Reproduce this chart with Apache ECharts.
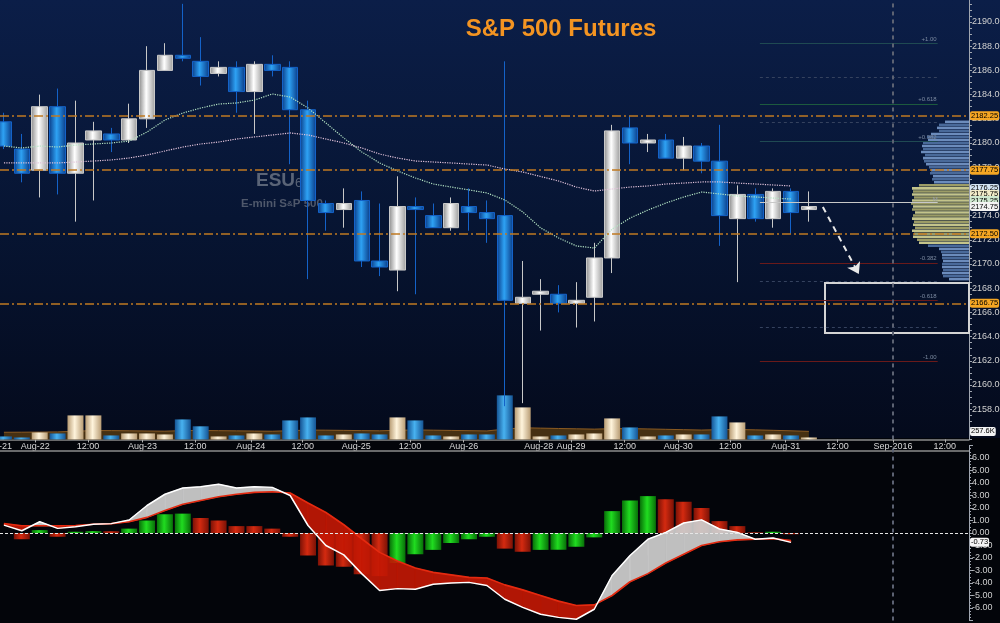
<!DOCTYPE html>
<html><head><meta charset="utf-8">
<script src="https://cdn.jsdelivr.net/npm/echarts@6/dist/echarts.min.js"></script>
<style>html,body{margin:0;padding:0;background:#03050a}#c{width:1000px;height:623px}</style>
</head><body><div id="c"></div>
<script>
// ---------- DATA ----------
const opens  = [2181.75,2179.5,2177.75,2183.0,2177.5,2180.25,2180.75,2180.25,2182.0,2186.0,2187.25,2186.75,2185.75,2186.25,2184.25,2186.5,2186.25,2182.75,2175.0,2174.5,2175.25,2170.25,2169.5,2174.75,2174.0,2173.0,2174.75,2174.25,2174.0,2166.75,2167.5,2167.5,2166.75,2167.25,2170.5,2181.25,2180.0,2180.25,2178.75,2179.75,2178.5,2173.75,2175.75,2173.75,2176.0,2174.5];
const closes = [2179.75,2177.5,2183.0,2177.5,2180.0,2181.0,2180.25,2182.0,2186.0,2187.25,2187.0,2185.5,2186.25,2184.25,2186.5,2186.0,2182.75,2175.25,2174.25,2175.0,2170.25,2169.75,2174.75,2174.5,2173.0,2175.0,2174.25,2173.75,2167.0,2167.25,2167.75,2166.75,2167.0,2170.5,2181.0,2180.0,2180.25,2178.75,2179.75,2178.5,2174.0,2175.75,2173.75,2176.0,2174.25,2174.75];
const lows   = [2179.5,2176.75,2175.5,2175.75,2173.5,2175.25,2179.25,2180.0,2181.25,2186.0,2186.75,2184.75,2185.5,2182.5,2180.75,2185.5,2178.25,2168.75,2172.75,2173.0,2169.75,2169.0,2167.75,2167.5,2173.0,2172.75,2172.75,2171.75,2158.25,2158.5,2164.5,2166.0,2164.75,2165.25,2169.25,2178.25,2179.25,2178.75,2177.75,2177.5,2171.5,2168.5,2173.5,2173.0,2172.5,2173.5];
const highs  = [2182.5,2180.75,2184.0,2184.5,2183.5,2181.75,2181.25,2183.25,2188.0,2188.25,2191.5,2188.75,2186.75,2186.75,2186.75,2187.25,2186.75,2183.5,2175.25,2176.25,2176.0,2175.0,2177.25,2175.5,2175.0,2175.5,2176.25,2175.25,2186.75,2170.25,2168.75,2168.25,2168.5,2171.75,2181.5,2182.25,2180.75,2180.75,2180.5,2180.0,2181.5,2176.5,2176.25,2176.25,2176.25,2176.0];
const volumesK = [96,64,224,192,768,768,128,192,192,160,640,420,96,128,192,160,608,704,128,160,192,160,704,608,128,96,160,160,1408,1024,96,128,160,192,672,384,96,128,160,160,736,544,128,160,128,64];
const volumeAvgK = [230,232,236,240,262,284,282,276,270,264,282,286,280,274,268,262,280,300,296,290,282,276,292,304,296,288,280,272,330,372,362,350,340,330,344,346,336,324,312,300,312,318,306,292,276,257.6];
const maFast = [2179.75,2179.59,2179.75,2179.67,2179.83,2179.92,2180.0,2180.16,2180.91,2181.9,2182.48,2182.89,2183.22,2183.31,2183.55,2184.05,2183.8,2182.89,2181.65,2180.41,2179.26,2178.35,2177.69,2177.11,2176.61,2176.36,2176.12,2175.87,2175.29,2174.3,2172.98,2172.15,2171.49,2171.32,2172.89,2173.8,2174.46,2175.04,2175.54,2175.95,2175.79,2175.62,2175.54,2175.45,2175.37];
const maSlow = [2178.35,2178.35,2178.35,2178.35,2178.43,2178.51,2178.6,2178.76,2179.01,2179.34,2179.67,2179.92,2180.08,2180.33,2180.5,2180.66,2180.83,2180.66,2180.33,2180.0,2179.59,2179.09,2178.76,2178.51,2178.43,2178.35,2178.26,2178.18,2177.85,2177.6,2177.23,2176.86,2176.36,2176.03,2176.2,2176.36,2176.45,2176.61,2176.69,2176.78,2176.78,2176.69,2176.61,2176.53,2176.45];
const macdLine   = [0.63,0.18,0.9,0.37,0.5,0.7,0.75,1.04,2.2,3.1,3.6,3.7,3.9,3.6,3.7,3.65,3.0,0.6,-1.0,-1.75,-3.25,-4.6,-4.45,-4.5,-4.1,-4.0,-3.95,-4.2,-5.3,-5.95,-6.5,-6.75,-6.9,-6.1,-3.4,-1.8,-0.5,0.05,0.8,1.05,0.32,0.05,-0.5,-0.4,-0.75];
const signalLine = [0.75,0.58,0.58,0.58,0.6,0.7,0.75,0.9,1.25,1.8,2.3,2.6,2.9,3.1,3.25,3.3,3.2,2.4,1.64,0.66,-0.46,-1.55,-2.24,-2.8,-3.15,-3.35,-3.55,-3.6,-4.15,-4.55,-5.0,-5.45,-5.8,-5.75,-5.0,-3.9,-3.25,-2.4,-1.7,-1.0,-0.7,-0.55,-0.5,-0.45,-0.6];
const macdHist   = [0,-0.5,0.23,-0.3,0.1,0.15,0.14,0.35,1.0,1.5,1.55,1.2,1.0,0.55,0.55,0.35,-0.3,-1.8,-2.6,-2.7,-3.3,-3.45,-2.4,-1.7,-1.35,-0.8,-0.5,-0.3,-1.25,-1.5,-1.35,-1.34,-1.1,-0.35,1.75,2.6,2.95,2.7,2.5,2.0,0.95,0.55,0.05,0.1,-0.1];
const macdLast = -0.73;
const volumeLastTag = 257.6;
const keyLevels = [2182.25, 2177.75, 2172.50, 2166.75];
const lastTags = [2176.25, 2175.75, 2175.25, 2174.75];
const lastTagColors = ['#d4e4f4', '#f2ecc8', '#cfe9cf', '#f2f2f2'];
const fibMid = 2175.12, fibRange = 13.14;
const fibRatios = [1, 0.786, 0.618, 0.5, 0.382, -0.382, -0.5, -0.618, -0.786, -1];
const fibStart = 42.26, fibEnd = 52.2;
const profileTop = 2181.75, profileStep = 0.25;
const profileVol = [24,30,32,30,38,42,41,46,47,46,48,44,46,45,43,40,38,39,36,37,35,50,57,56,57,55,57,58,56,57,54,56,57,55,56,54,57,55,56,52,50,41,30,28,27,27,26,27,27,26,27,26,20];
const valueAreaLow = 2171.75, valueAreaHigh = 2176.5;
const xTickPos  = [1.75,4.7,7.75,10.7,13.8,16.7,19.7,22.7,25.7,29.9,31.7,34.7,37.7,40.6,43.7,46.6,49.7,52.6];
const xTickText = ['Aug-22','12:00','Aug-23','12:00','Aug-24','12:00','Aug-25','12:00','Aug-26','Aug-28','Aug-29','12:00','Aug-30','12:00','Aug-31','12:00','Sep-2016','12:00'];
const sepLinePos = 49.7;
const targetBox = [[45.9, 2168.43], [54, 2164.3]];
const arrowFrom = [45.78, 2174.71], arrowTo = [47.79, 2169.17];
const NBARS = 54;
const categories = Array.from({length: NBARS}, (_, i) => 'B' + i);

// ---------- STYLE ----------
const FONT = '"Liberation Sans Narrow", "Liberation Sans", Arial, sans-serif';
const hGrad = (a, b, c) => ({type:'linear', x:0, y:0, x2:1, y2:0, colorStops:[{offset:0,color:a},{offset:0.45,color:b},{offset:1,color:c}]});
const upGrad = hGrad('#8a8a8a', '#ffffff', '#9c9c9c');
const dnGrad = hGrad('#0a3c88', '#2ea2f4', '#0a3c88');
const volUp = hGrad('#b89c74', '#fff4dc', '#b89c74');
const volDn = hGrad('#155494', '#48b2f0', '#155494');
const hGreen = hGrad('#087008', '#20dc20', '#087008');
const hRed = hGrad('#7c1206', '#d42a10', '#7c1206');

const chart = echarts.init(document.getElementById('c'));

const tagLabel = (bg, fmt) => ({show:true, position:'end', distance:1, backgroundColor:bg, color:'#000', fontFamily:FONT, fontSize:7.5, fontWeight:'normal', padding:[1,1,0,1], borderRadius:2, formatter: fmt || (p => Number(p.value).toFixed(2))});
const hidden = {width:0, color:'rgba(0,0,0,0)'};

const markLines = [];
keyLevels.forEach(v => markLines.push({yAxis:v, lineStyle:{color:'#c07a22', width:1.5, type:[9,3,2,3]}, label:tagLabel('#f5a623')}));
fibRatios.forEach(r => {
  const lvl = fibMid + r * fibRange;
  const major = [1, 0.618, 0.382, -0.382, -0.618, -1].includes(r);
  const col = !major ? '#35425e' : (r > 0 ? (r === 0.618 ? '#1d5a3e' : '#1f4a52') : '#6a1a1a');
  markLines.push([
    {coord:[fibStart, lvl], lineStyle:{color:col, width:1, type: major ? 'solid' : [3,3]},
     label:{show: major, position:'insideEndTop', distance:1, color:'#7c8aa0', fontSize:6, fontFamily:FONT, formatter:(r>0?'+':'') + r.toFixed(Math.abs(r)===1?2:3)}},
    {coord:[fibEnd, lvl]}
  ]);
});
markLines.push([{coord:[fibStart, fibMid], lineStyle:{color:'#c8c8c8', width:1, type:'solid'}, label:{show:true, position:'insideEndTop', distance:0, color:'#9aa0aa', fontSize:6, formatter:'M'}}, {coord:[fibEnd, fibMid]}]);
markLines.push({xAxis:sepLinePos, lineStyle:{color:'#5c6272', width:2, type:[4,4]}, label:{show:false}});
markLines.push([{coord:arrowFrom, symbol:'none', lineStyle:{color:'#e8e8e8', width:2, type:[6,5]}, label:{show:false}}, {coord:arrowTo, symbol:'arrow', symbolSize:11}]);
lastTags.forEach((v, i) => markLines.push({yAxis:v, lineStyle:hidden, label:tagLabel(lastTagColors[i])}));

const axisCol = '#a0a6b0';
const G = o => Object.assign({outerBoundsMode:'none', containLabel:false}, o);
const option = {
  backgroundColor:'#03050a',
  animation:false,
  grid:[
    G({left:-5, right:38.9, top:-2.2, height:441.65}),
    G({left:0, right:31, top:-2.2, height:441.65}),
    G({left:0, right:31, top:395, height:44.45}),
    G({left:0, right:31, top:445.5, height:175}),
    G({left:910, right:31, top:-2.2, height:441.65})
  ],
  xAxis:[
    {gridIndex:0, type:'category', data:categories, show:false},
    {gridIndex:1, type:'value', min:-0.22, max:53.95, show:false},
    {gridIndex:2, type:'value', min:-0.22, max:53.95,
      axisLine:{show:true, onZero:false, lineStyle:{color:'#8c8c8c', width:1.5}}, splitLine:{show:false},
      axisTick:{show:true, customValues:xTickPos, length:3, lineStyle:{color:'#b0b0b0'}},
      axisLabel:{customValues:xTickPos, color:'#d8d8d8', fontSize:9, fontFamily:FONT, margin:3,
        formatter: v => { const i = xTickPos.findIndex(p => Math.abs(p - v) < 1e-6); return i >= 0 ? xTickText[i] : ''; }}},
    {gridIndex:3, type:'value', min:-0.22, max:53.95, show:false},
    {gridIndex:4, type:'value', min:0, max:59, inverse:true, show:false}
  ],
  yAxis:[
    {gridIndex:0, type:'value', min:2155.5, max:2192, show:false},
    {gridIndex:1, type:'value', position:'right', min:2155.5, max:2192, interval:0.5,
      axisLine:{show:true, onZero:false, lineStyle:{color:axisCol}}, splitLine:{show:false},
      axisTick:{show:true, length:3, lineStyle:{color:axisCol}},
      axisLabel:{color:'#d0d0d0', fontSize:9, fontFamily:FONT, margin:3,
        formatter: v => (Math.abs(v/2 - Math.round(v/2)) < 1e-6 && v >= 2157 && v <= 2191) ? v.toFixed(2) : ''}},
    {gridIndex:2, type:'value', min:0, max:1420, show:false},
    {gridIndex:3, type:'value', position:'right', min:-7, max:7, interval:1,
      axisLine:{show:true, onZero:false, lineStyle:{color:axisCol}}, splitLine:{show:false},
      axisTick:{show:true, length:4, lineStyle:{color:axisCol}},
      minorTick:{show:true, splitNumber:4, length:2, lineStyle:{color:axisCol}},
      axisLabel:{color:'#d0d0d0', fontSize:9, fontFamily:FONT, margin:3,
        formatter: v => Math.abs(v) <= 6 ? v.toFixed(2) : ''}},
    {gridIndex:4, type:'value', min:2155.5, max:2192, show:false}
  ],
  graphic:{elements:[
    {type:'rect', z:-10, shape:{x:0, y:0, width:1000, height:438},
      style:{fill:new echarts.graphic.LinearGradient(0,0,0,1,[{offset:0,color:'#0b1e48'},{offset:0.5,color:'#071533'},{offset:1,color:'#040a1c'}])}},
    {type:'line', z:5, shape:{x1:0, y1:451, x2:969, y2:451}, style:{stroke:'#8c8c8c', lineWidth:1.5}},
    {type:'text', z:20, x:561, y:29, style:{text:'S&P 500 Futures', fill:'#f39422', font:'bold 24px "Liberation Sans", Arial, sans-serif', textAlign:'center', textVerticalAlign:'middle'}},
    {type:'text', z:0, x:256, y:181, style:{text:'{a|ESU}{b|6}', textVerticalAlign:'middle', rich:{a:{fontSize:19, fontWeight:'bold', fill:'#5a6477', color:'#5a6477', fontFamily:'"Liberation Sans", Arial'}, b:{fontSize:13, color:'#5a6477', fill:'#5a6477', fontFamily:'"Liberation Sans", Arial', padding:[4,0,0,0]}}}},
    {type:'text', z:0, x:241, y:204, style:{text:'E-mini S{s|&}P 500', fill:'#4f586b', font:'bold 11.5px "Liberation Sans", Arial', textVerticalAlign:'middle', rich:{s:{fontSize:8, fontWeight:'bold', color:'#4f586b', fill:'#4f586b'}}}},
    {type:'text', z:20, x:12, y:447, style:{text:'Aug-21', fill:'#d8d8d8', font:'9px ' + FONT, textAlign:'right', textVerticalAlign:'middle'}}
  ]},
  series:[
    {type:'line', xAxisIndex:1, yAxisIndex:1, data:[], z:1, silent:true,
      markLine:{symbol:['none','none'], silent:true, animation:false, data:markLines},
      markArea:{silent:true, data:[[{coord:targetBox[0], itemStyle:{color:'rgba(0,0,0,0)', borderColor:'#d4d4d4', borderWidth:2}}, {coord:targetBox[1]}]]}},
    {type:'candlestick', xAxisIndex:0, yAxisIndex:0, z:3, barWidth:16,
      data: opens.map((o, i) => [o, closes[i], lows[i], highs[i]]),
      itemStyle:{color:upGrad, color0:dnGrad, borderColor:'#c8c8c8', borderColor0:'#1462c8', borderWidth:1}},
    {type:'line', xAxisIndex:0, yAxisIndex:0, z:4, data:maFast, symbol:'none', lineStyle:{color:'#b4e4c4', width:1.2, type:'dotted'}},
    {type:'line', xAxisIndex:0, yAxisIndex:0, z:4, data:maSlow, symbol:'none', lineStyle:{color:'#e2c2da', width:1.2, type:'dotted'}},
    {type:'line', xAxisIndex:2, yAxisIndex:2, z:1, symbol:'none', data:volumeAvgK.map((v, i) => [i, v]),
      lineStyle:{color:'#8a5a22', width:1}, areaStyle:{color:'#4a3312', opacity:0.95},
      markLine:{symbol:['none','none'], silent:true, data:[{yAxis:volumeLastTag, lineStyle:hidden, label:tagLabel('#f4f4f4', () => volumeLastTag + 'K')}]}},
    {type:'bar', xAxisIndex:2, yAxisIndex:2, z:2, barWidth:16,
      data: volumesK.map((v, i) => ({value:[i, v], itemStyle:{color: closes[i] >= opens[i] ? volUp : volDn}}))},
    {type:'custom', xAxisIndex:4, yAxisIndex:4, z:2, silent:true,
      data: profileVol.map((w, i) => [w, profileTop - i * profileStep, i]),
      encode:{x:0, y:1},
      renderItem:(params, api) => {
        const w = api.value(0), p = api.value(1), i = api.value(2);
        const a = api.coord([0, p + profileStep * 0.42]);
        const b = api.coord([w, p - profileStep * 0.42]);
        const inVA = p >= valueAreaLow && p <= valueAreaHigh;
        const fill = inVA ? (i % 2 ? '#9c9c66' : '#c4c48a') : (i % 2 ? '#4a6a9a' : '#6c8cbc');
        return {type:'rect', shape:{x:b[0], y:a[1], width:a[0]-b[0], height:b[1]-a[1]}, style:{fill:fill}};
      }},
    {type:'bar', xAxisIndex:3, yAxisIndex:3, z:1, barWidth:16,
      data: macdHist.map((v, i) => ({value:[i, v], itemStyle:{color: (i > 0 ? v > macdHist[i-1] : v >= 0) ? hGreen : hRed}})),
      markLine:{symbol:['none','none'], silent:true, data:[
        {yAxis:0, lineStyle:{color:'#e6e6e6', width:1, type:[3,2]}, label:{show:false}},
        {xAxis:sepLinePos, lineStyle:{color:'#5c6272', width:2, type:[4,4]}, label:{show:false}},
        {yAxis:macdLast, lineStyle:hidden, label:tagLabel('#f4f4f4')}
      ]}},
    {type:'custom', xAxisIndex:3, yAxisIndex:3, z:2, silent:true,
      data: macdLine.map((m, i) => [i, m, signalLine[i]]),
      encode:{x:0, y:[1,2]},
      renderItem:(params, api) => {
        const i = params.dataIndex;
        if (i >= macdLine.length - 1) return;
        const m0 = macdLine[i], m1 = macdLine[i+1], s0 = signalLine[i], s1 = signalLine[i+1];
        const d0 = m0 - s0, d1 = m1 - s1;
        const A0 = api.coord([i, m0]), A1 = api.coord([i+1, m1]), B0 = api.coord([i, s0]), B1 = api.coord([i+1, s1]);
        const col = d => d >= 0 ? 'rgba(206,206,206,0.93)' : 'rgba(196,24,4,0.9)';
        const poly = (pts, c) => ({type:'polygon', shape:{points:pts}, style:{fill:c, stroke:c, lineWidth:0.6}});
        if (d0 * d1 >= 0) return poly([A0, A1, B1, B0], col(d0 !== 0 ? d0 : d1));
        const t = d0 / (d0 - d1);
        const C = api.coord([i + t, m0 + t * (m1 - m0)]);
        return {type:'group', children:[poly([A0, C, B0], col(d0)), poly([C, A1, B1], col(d1))]};
      }},
    {type:'line', xAxisIndex:3, yAxisIndex:3, z:3, symbol:'none', data:signalLine.map((v, i) => [i, v]), lineStyle:{color:'#e42a10', width:1.6}},
    {type:'line', xAxisIndex:3, yAxisIndex:3, z:4, symbol:'none', data:macdLine.map((v, i) => [i, v]), lineStyle:{color:'#ffffff', width:1.5}}
  ]
};
chart.setOption(option);
</script>
</body></html>
